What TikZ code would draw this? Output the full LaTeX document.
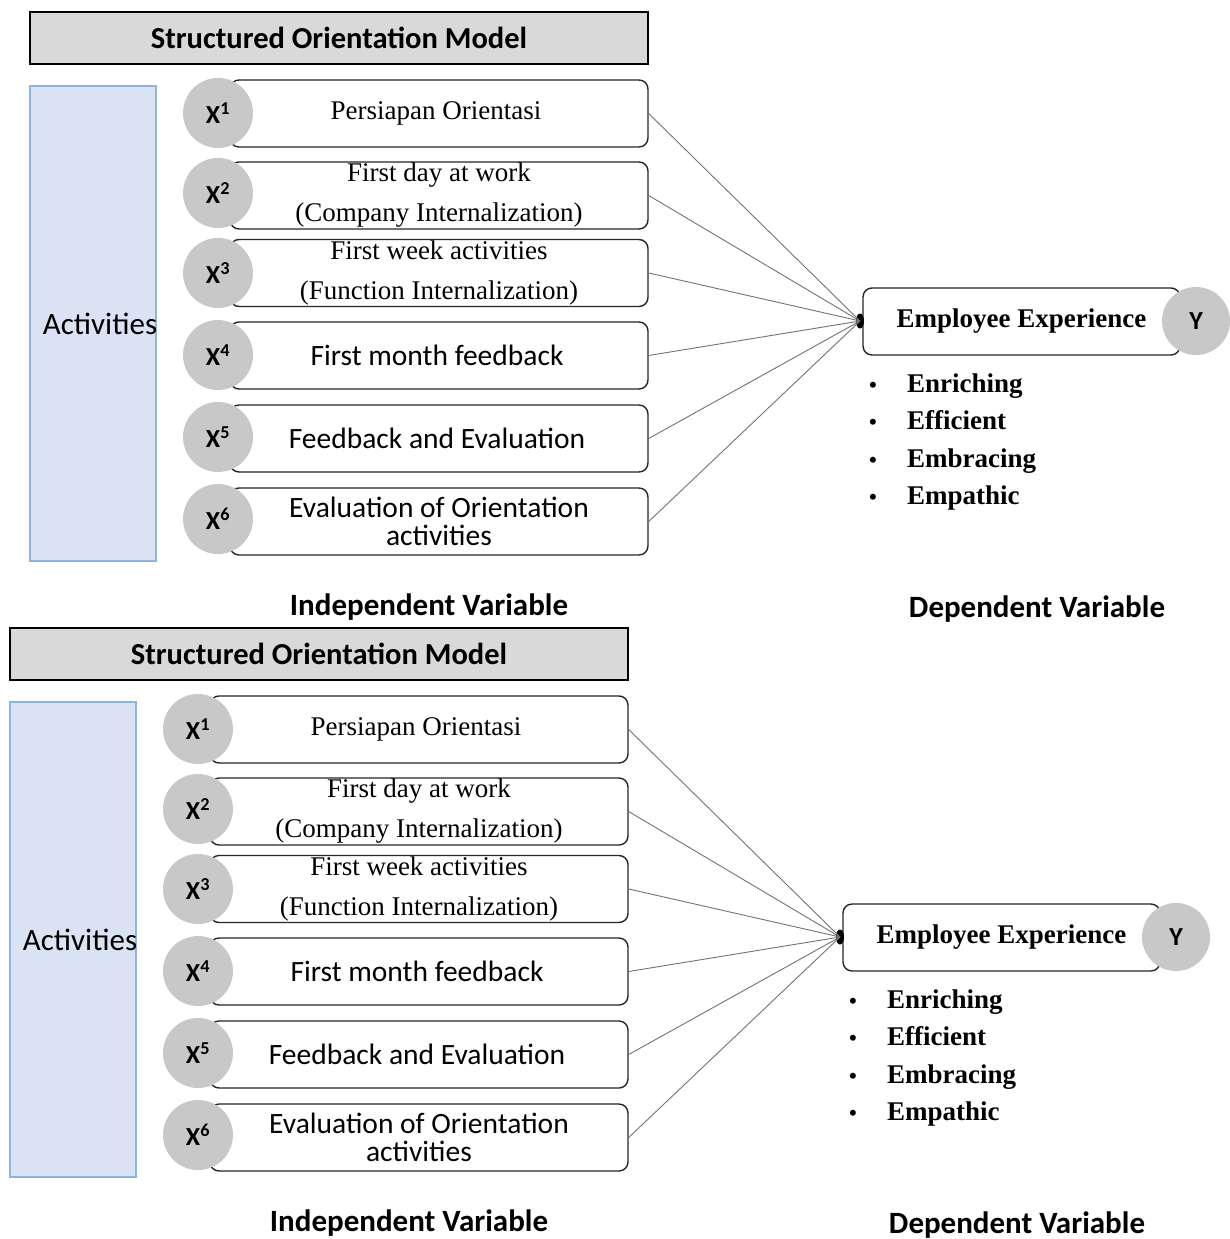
\documentclass[tikz,border=0pt]{standalone}
\usepackage{fontspec}
\usetikzlibrary{shapes.geometric}
\setmainfont{Liberation Serif}
\setsansfont{Carlito}
\definecolor{actfill}{RGB}{218,227,243}
\definecolor{actdraw}{RGB}{143,180,227}
\definecolor{circfill}{RGB}{200,200,200}
\definecolor{titlefill}{RGB}{217,217,217}
\begin{document}
\begin{tikzpicture}[x=1pt,y=-1pt,
  titlebox/.style={draw=black, line width=1.5pt, fill=titlefill, minimum width=618, minimum height=52, inner sep=0pt,
    font=\sffamily\bfseries\fontsize{30.5}{32}\selectfont},
  actbox/.style={draw=actdraw, line width=1.5pt, fill=actfill, minimum width=126, minimum height=475, inner sep=0pt},
  acttext/.style={font=\sffamily\fontsize{31}{32}\selectfont, inner sep=0pt},
  itembox/.style={draw=black!85, line width=1.4pt, fill=white, rounded corners=9pt, minimum width=418, minimum height=67, inner sep=0pt, align=center},
  serifitem/.style={font=\rmfamily\fontsize{27}{40}\selectfont},
  sansitem/.style={font=\sffamily\fontsize{29.5}{28}\selectfont},
  xcirc/.style={circle, fill=circfill, minimum size=70, inner sep=0pt, font=\sffamily\bfseries\fontsize{26}{28}\selectfont},
  eebox/.style={draw=black!85, line width=1.4pt, fill=white, rounded corners=9pt, minimum width=317, minimum height=67, inner sep=0pt,
    font=\rmfamily\bfseries\fontsize{27}{28}\selectfont},
  ycirc/.style={circle, fill=circfill, minimum size=68, inner sep=0pt, font=\sffamily\bfseries\fontsize{26}{28}\selectfont},
  jdot/.style={ellipse, fill=black, minimum width=8, minimum height=15, inner sep=0pt},
  conn/.style={draw=black!55, line width=0.9pt},
  bul/.style={anchor=base, inner sep=0pt, font=\rmfamily\bfseries\fontsize{22}{24}\selectfont},
  bultext/.style={anchor=base west, inner sep=0pt, font=\rmfamily\bfseries\fontsize{27}{28}\selectfont},
  vartext/.style={font=\sffamily\bfseries\fontsize{31}{32}\selectfont, inner sep=0pt}
]
\useasboundingbox (0,0) rectangle (1230,1239);
\fill[white] (0,0) rectangle (1230,1239);
\foreach \dx/\dy/\s in {0/0/a,-20/616/b}{
\begin{scope}[shift={(\dx,\dy)}]
  \node[titlebox] (title\s) at (339,38) {Structured Orientation Model\hspace{6pt}};
  \node[actbox] (act\s) at (93,323.5) {};
  \node[acttext] (actt\s) at (100,324) {Activities};
  \node[itembox, serifitem] (b1\s) at (439,113.5) {Persiapan Orientasi\hspace{6pt}};
  \node[itembox, serifitem] (b2\s) at (439,195.5) {First day at work\hspace{6pt}\\(Company Internalization)\hspace{6pt}};
  \node[itembox, serifitem] (b3\s) at (439,273) {First week activities\hspace{6pt}\\(Function Internalization)\hspace{6pt}};
  \node[itembox, sansitem] (b4\s) at (439,355.5) {First month feedback\hspace{4pt}};
  \node[itembox, sansitem] (b5\s) at (439,438.5) {Feedback and Evaluation\hspace{4pt}};
  \node[itembox, sansitem] (b6\s) at (439,521.5) {Evaluation of Orientation\hspace{4pt}\\activities\hspace{4pt}};
  \node[xcirc] (c1\s) at (218,113) {X\textsuperscript{1}};
  \node[xcirc] (c2\s) at (218,193) {X\textsuperscript{2}};
  \node[xcirc] (c3\s) at (218,273) {X\textsuperscript{3}};
  \node[xcirc] (c4\s) at (218,355) {X\textsuperscript{4}};
  \node[xcirc] (c5\s) at (218,437) {X\textsuperscript{5}};
  \node[xcirc] (c6\s) at (218,519) {X\textsuperscript{6}};
  \node[eebox] (ee\s) at (1021.5,321.5) {Employee Experience\hspace{30pt}};
  \node[ycirc] (y\s) at (1196,321) {Y};
  \node[jdot] (dot\s) at (860,321) {};
  \foreach \i in {1,...,6}{
    \draw[conn] (b\i\s.east) -- (dot\s.center);
  }
  \node[bul] (u1\s) at (873,392) {•};
  \node[bul] (u2\s) at (873,429) {•};
  \node[bul] (u3\s) at (873,467) {•};
  \node[bul] (u4\s) at (873,504) {•};
  \node[bultext] (t1\s) at (907,392) {Enriching};
  \node[bultext] (t2\s) at (907,429) {Efficient};
  \node[bultext] (t3\s) at (907,467) {Embracing};
  \node[bultext] (t4\s) at (907,504) {Empathic};
  \node[vartext] (iv\s) at (429,607) {Independent Variable};
  \node[vartext] (dv\s) at (1037,609) {Dependent Variable};
\end{scope}
}
\end{tikzpicture}
\end{document}
